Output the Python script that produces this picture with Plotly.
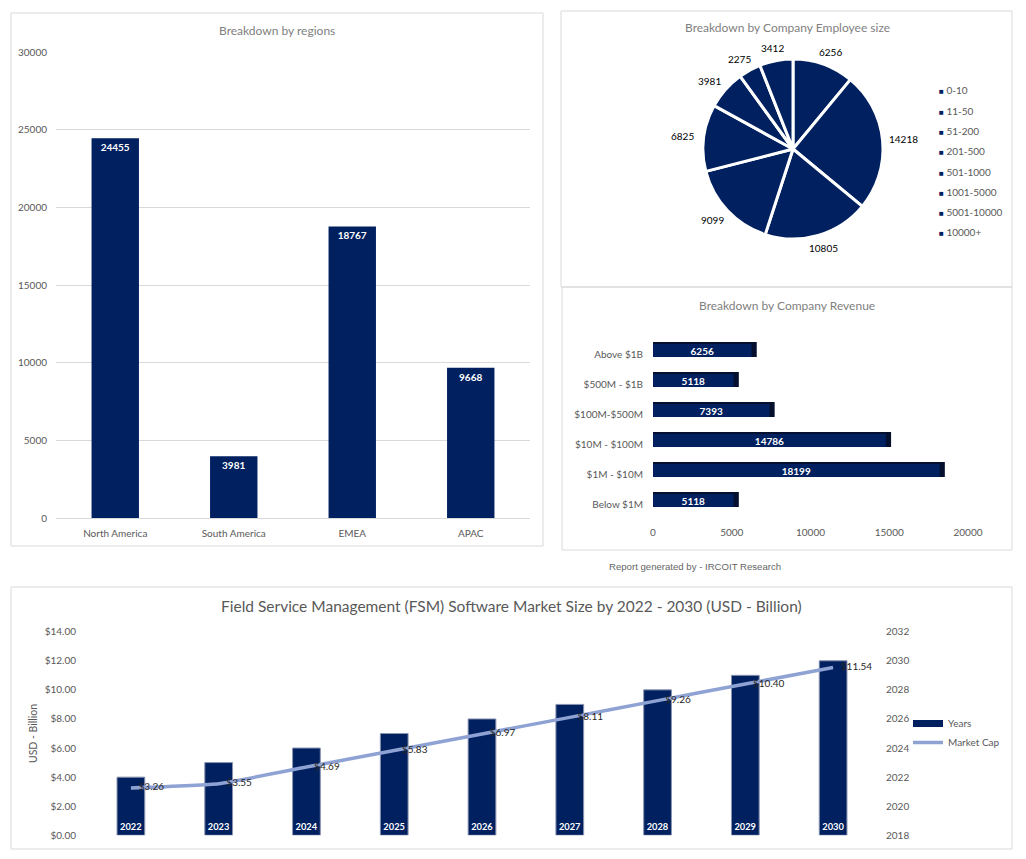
import numpy as np
import plotly.graph_objects as go

# Regions
regions = ['North America', 'South America', 'EMEA', 'APAC']
region_values = [24455, 3981, 18767, 9668]

# Employee size
size_labels = ['0-10', '11-50', '51-200', '201-500', '501-1000', '1001-5000', '5001-10000', '10000+']
size_values = [6256, 14218, 10805, 9099, 6825, 3981, 2275, 3412]

# Revenue (bottom to top)
revenue_labels = ['Below $1M', '$1M - $10M', '$10M - $100M', '$100M-$500M', '$500M - $1B', 'Above $1B']
revenue_values = [5118, 18199, 14786, 7393, 5118, 6256]

# Market size
years = [2022, 2023, 2024, 2025, 2026, 2027, 2028, 2029, 2030]
market_cap = [3.26, 3.55, 4.69, 5.83, 6.97, 8.11, 9.26, 10.40, 11.54]

# Page size and colours
W = 1026
H = 859
NAVY = '#002060'
SIDE = '#04102E'
LINE = '#8FA2D4'
GREY = '#595959'
TITLE = '#7F7F7F'
BORDER = '#D9D9D9'
FONT = 'Lato'

fig = go.Figure()

# Bars by region
fig.add_trace(go.Bar(x=regions, y=region_values, width=0.4, marker_color=NAVY,
                     text=region_values, textposition='inside', insidetextanchor='end', textangle=0,
                     textfont=dict(color='white', size=10, weight='bold'),
                     xaxis='x', yaxis='y', showlegend=False))

# Pie by employee size, the numbers are set further out below
fig.add_trace(go.Pie(labels=size_labels, values=size_values, textinfo='none', sort=False,
                     direction='clockwise', rotation=0,
                     marker=dict(colors=[NAVY] * len(size_values), line=dict(color='white', width=3)),
                     domain=dict(x=[703 / W, 883 / W], y=[1 - 239 / H, 1 - 59 / H]), showlegend=False))

# Revenue bars, the darker one behind gives the 3D side
fig.add_trace(go.Bar(y=revenue_labels, x=[v + 330 for v in revenue_values], orientation='h',
                     width=0.5, offset=-0.1, marker_color=SIDE,
                     xaxis='x2', yaxis='y2', showlegend=False))
fig.add_trace(go.Bar(y=revenue_labels, x=revenue_values, orientation='h',
                     width=0.43, offset=-0.1, marker_color=NAVY,
                     text=revenue_values, textposition='inside', insidetextanchor='middle', textangle=0,
                     constraintext='none', textfont=dict(color='white', size=10, weight='bold'),
                     xaxis='x2', yaxis='y2', showlegend=False))

# Years as bars on the right axis, market cap as line on the left axis
fig.add_trace(go.Bar(x=years, y=[y - 2018 for y in years], base=2018, width=0.316,
                     marker=dict(color=NAVY, line=dict(color='#8A94B0', width=1)),
                     text=years, textposition='inside', insidetextanchor='start', textangle=0,
                     textfont=dict(color='white', size=10, weight='bold'),
                     xaxis='x3', yaxis='y3', showlegend=False))
fig.add_trace(go.Scatter(x=[None], y=[None], mode='lines', name='Years',
                         line=dict(color=NAVY, width=7), xaxis='x3', yaxis='y4'))
fig.add_trace(go.Scatter(x=years, y=market_cap, mode='lines+text', name='Market Cap',
                         line=dict(color=LINE, width=3.5, shape='spline', smoothing=0.4),
                         text=[f'\u00a0\u00a0\u00a0${v:.2f}' for v in market_cap],  # spaces push labels off the line
                         textposition='middle right', textfont=dict(color='#262626', size=10),
                         xaxis='x3', yaxis='y4'))

# Panel frames
panels = [(11, 13, 543, 546), (561, 11, 1012, 287), (562, 287, 1012, 550), (11, 587, 1012, 849)]
shapes = [dict(type='rect', xref='paper', yref='paper', x0=a / W, x1=c / W, y0=1 - d / H, y1=1 - b / H,
               line=dict(color=BORDER, width=1), layer='below') for a, b, c, d in panels]

# Titles and footer
annotations = [
    dict(text='Breakdown by regions', x=277 / W, y=1 - 30 / H, font=dict(size=12, color=TITLE)),
    dict(text='Breakdown by Company Employee size', x=787 / W, y=1 - 28 / H, font=dict(size=12, color=TITLE)),
    dict(text='Breakdown by Company Revenue', x=787 / W, y=1 - 305 / H, font=dict(size=12, color=TITLE)),
    dict(text='Field Service Management (FSM) Software Market Size by 2022 - 2030 (USD - Billion)',
         x=511 / W, y=1 - 606 / H, font=dict(size=15.5, color=GREY)),
    dict(text='Report generated by - IRCOIT Research', x=695 / W, y=1 - 566 / H,
         font=dict(size=9.6, color='#666666', family='Liberation Sans')),
]

# Small square legend of the pie
for i, label in enumerate(size_labels):
    annotations.append(dict(text=f'<span style="color:{NAVY};font-size:8px">■</span> {label}',
                            x=937 / W, y=1 - (90.3 + 20.3 * i) / H, xanchor='left',
                            font=dict(size=10, color=GREY)))

# Pie numbers on a ring around the slices
shares = np.array(size_values) / sum(size_values)
angles = 2 * np.pi * (np.cumsum(shares) - shares / 2)
for v, a in zip(size_values, angles):
    annotations.append(dict(text=str(v), x=(793 + 111 * np.sin(a)) / W, y=1 - (149 - 103 * np.cos(a)) / H,
                            font=dict(size=10, color='black')))

for a in annotations:
    a.update(xref='paper', yref='paper', showarrow=False)
    a.setdefault('xanchor', 'center')
    a.setdefault('yanchor', 'middle')

tick_font = dict(family=FONT, size=10, color=GREY)

fig.update_layout(
    width=W, height=H, margin=dict(l=0, r=0, t=0, b=0), template='none',
    paper_bgcolor='white', plot_bgcolor='white', barmode='overlay',
    font=dict(family=FONT, size=10, color=GREY),
    shapes=shapes, annotations=annotations,
    legend=dict(x=908 / W, y=1 - 709 / H, xanchor='left', yanchor='top', bgcolor='rgba(0,0,0,0)',
                font=dict(size=10, color=GREY), itemwidth=30, traceorder='normal'),
    xaxis=dict(domain=[56 / W, 530 / W], anchor='y', showgrid=False, zeroline=False, showline=True,
               linecolor=BORDER, tickfont=tick_font, ticklabelstandoff=6),
    yaxis=dict(domain=[1 - 518 / H, 1 - 52 / H], anchor='x', range=[0, 30000], dtick=5000, tickformat='d',
               showgrid=True, gridcolor=BORDER, zeroline=False, tickfont=tick_font, ticklabelstandoff=8),
    xaxis2=dict(domain=[653 / W, 999.5 / W], anchor='y2', range=[0, 22000], dtick=5000, tickformat='d',
                showgrid=False, zeroline=False, tickfont=tick_font, ticklabelstandoff=6),
    yaxis2=dict(domain=[1 - 519 / H, 1 - 339 / H], anchor='x2', type='category', categoryorder='array',
                categoryarray=revenue_labels, showgrid=False, zeroline=False, tickfont=tick_font,
                ticklabelstandoff=9),
    xaxis3=dict(domain=[87 / W, 877 / W], anchor='y3', range=[2021.5, 2030.5], showgrid=False,
                zeroline=False, showticklabels=False),
    yaxis3=dict(domain=[1 - 835.3 / H, 1 - 631.7 / H], anchor='x3', side='right', range=[2018, 2032], dtick=2,
                tickformat='d', showgrid=False, zeroline=False, tickfont=tick_font, ticklabelstandoff=8),
    yaxis4=dict(domain=[1 - 835.3 / H, 1 - 631.7 / H], anchor='x3', overlaying='y3', side='left',
                range=[0, 14], dtick=2, tickformat='$.2f', showgrid=False, zeroline=False,
                tickfont=tick_font, ticklabelstandoff=10,
                title=dict(text='USD - Billion', font=dict(family=FONT, size=10.5, color=GREY), standoff=4)),
)

fig.write_html('out.html', config=dict(displayModeBar=False),
               post_script="document.body.style.margin='0';")
